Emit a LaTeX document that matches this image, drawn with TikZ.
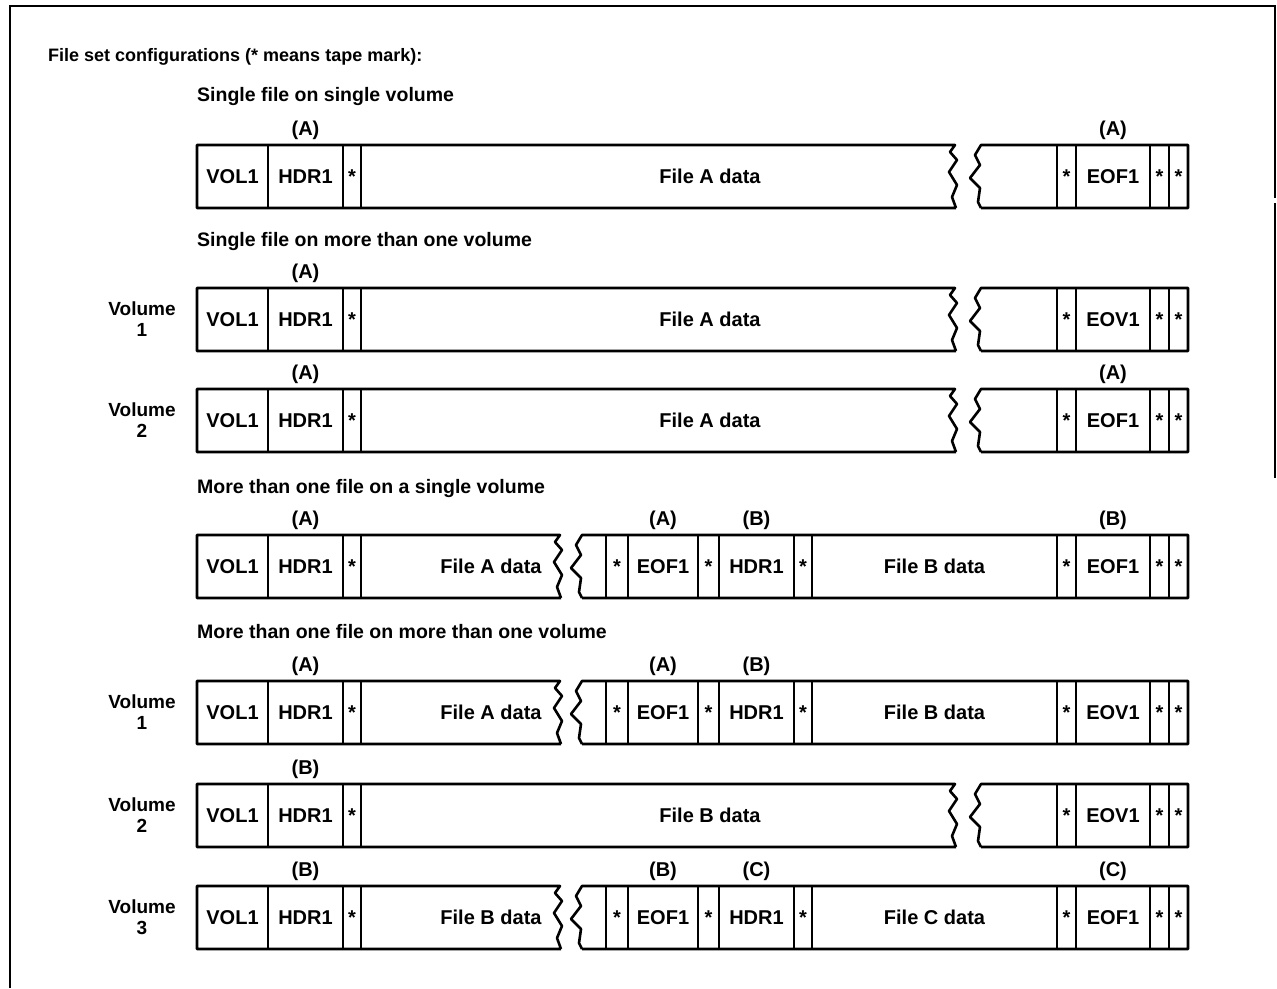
\documentclass[tikz,border=0pt]{standalone}
\usepackage{fontspec}
\setmainfont{Liberation Sans}
\def\zigL{-- ++(-5,7) -- ++(7,8) -- ++(-8,12) -- ++(8,13) -- ++(-5,12) -- ++(4,11)}
\def\zigR{-- ++(-6,10) -- ++(5,10) -- ++(-10,13) -- ++(10,10) -- ++(-2,14) -- ++(3,6)}
\newcommand\rowleft[1]{%
  \draw[div] (268,0) -- (268,63);
  \draw[div] (343,0) -- (343,63);
  \draw[div] (361,0) -- (361,63);
  \node[lbl] (#1vol) at (232.5,31.5) {VOL1};
  \node[lbl] (#1hdr) at (305.5,31.5) {HDR1};
  \node[lbl] (#1ta) at (352,31.5) {*};
}
\newcommand\rowright[2]{%
  \draw[div] (1057,0) -- (1057,63);
  \draw[div] (1076,0) -- (1076,63);
  \draw[div] (1150,0) -- (1150,63);
  \draw[div] (1169,0) -- (1169,63);
  \node[lbl] (#1tb) at (1066.5,31.5) {*};
  \node[lbl] (#1end) at (1113,31.5) {#2};
  \node[lbl] (#1tc) at (1159.5,31.5) {*};
  \node[lbl] (#1td) at (1178.5,31.5) {*};
}
\newcommand\rowlong[3]{%
  \draw[box] (956,63) -- (197,63) -- (197,0) -- (955,0) \zigL;
  \draw[box] (981,63) -- (1188,63) -- (1188,0) -- (981,0) \zigR;
  \rowleft{#1}
  \node[lbl] (#1data) at (710,31.5) {#2};
  \rowright{#1}{#3}
}
\newcommand\rowmid[4]{%
  \draw[box] (561,63) -- (197,63) -- (197,0) -- (560,0) \zigL;
  \draw[box] (582,63) -- (1188,63) -- (1188,0) -- (582,0) \zigR;
  \rowleft{#1}
  \node[lbl] (#1data) at (491,31.5) {#2};
  \draw[div] (606,0) -- (606,63);
  \draw[div] (628,0) -- (628,63);
  \draw[div] (698,0) -- (698,63);
  \draw[div] (719,0) -- (719,63);
  \draw[div] (794,0) -- (794,63);
  \draw[div] (812,0) -- (812,63);
  \node[lbl] (#1tm1) at (617,31.5) {*};
  \node[lbl] (#1eof) at (663,31.5) {EOF1};
  \node[lbl] (#1tm2) at (708.5,31.5) {*};
  \node[lbl] (#1hdrb) at (756.5,31.5) {HDR1};
  \node[lbl] (#1tm3) at (803,31.5) {*};
  \node[lbl] (#1datab) at (934.5,31.5) {#3};
  \rowright{#1}{#4}
}
\begin{document}
\begin{tikzpicture}[x=1pt,y=-1pt,
  box/.style={line width=2.6pt, line join=round},
  div/.style={line width=2pt},
  lbl/.style={font=\fontsize{20}{22}\selectfont\bfseries, inner sep=0pt, text height=14pt, text depth=0pt},
  hdr/.style={font=\fontsize{19.5}{21}\selectfont\bfseries, inner sep=0pt, text height=13pt, text depth=0pt, anchor=west},
  vol/.style={font=\fontsize{19}{21}\selectfont\bfseries, inner sep=0pt, align=center},
  frame/.style={line width=2.6pt}]
\useasboundingbox (0,0) rectangle (1277,988);
% frame
\draw[frame] (10,988) -- (10,6) -- (1275,6) -- (1275,198);
\draw[frame] (1275,203) -- (1275,478);
% titles
\node[hdr, font=\fontsize{18}{21}\selectfont\bfseries] (title) at (48,55) {File set configurations (* means tape mark):};
\node[hdr] (h1) at (197,95) {Single file on single volume};
\node[hdr] (h2) at (197,240) {Single file on more than one volume};
\node[hdr] (h3) at (197,487) {More than one file on a single volume};
\node[hdr] (h4) at (197,632) {More than one file on more than one volume};
% row 1
\begin{scope}[shift={(0,145)}]
  \rowlong{ra}{File A data}{EOF1}
  \node[lbl] (raL1) at (305.5,-17) {(A)};
  \node[lbl] (raL2) at (1113,-17) {(A)};
\end{scope}
% row 2
\begin{scope}[shift={(0,288)}]
  \rowlong{rb}{File A data}{EOV1}
  \node[lbl] (rbL1) at (305.5,-17) {(A)};
  \node[vol] (rbV) at (142,31.5) {Volume\\1};
\end{scope}
% row 3
\begin{scope}[shift={(0,389)}]
  \rowlong{rc}{File A data}{EOF1}
  \node[lbl] (rcL1) at (305.5,-17) {(A)};
  \node[lbl] (rcL2) at (1113,-17) {(A)};
  \node[vol] (rcV) at (142,31.5) {Volume\\2};
\end{scope}
% row 4
\begin{scope}[shift={(0,535)}]
  \rowmid{rd}{File A data}{File B data}{EOF1}
  \node[lbl] (rdL1) at (305.5,-17) {(A)};
  \node[lbl] (rdL2) at (663,-17) {(A)};
  \node[lbl] (rdL3) at (756.5,-17) {(B)};
  \node[lbl] (rdL4) at (1113,-17) {(B)};
\end{scope}
% row 5
\begin{scope}[shift={(0,681)}]
  \rowmid{re}{File A data}{File B data}{EOV1}
  \node[lbl] (reL1) at (305.5,-17) {(A)};
  \node[lbl] (reL2) at (663,-17) {(A)};
  \node[lbl] (reL3) at (756.5,-17) {(B)};
  \node[vol] (reV) at (142,31.5) {Volume\\1};
\end{scope}
% row 6
\begin{scope}[shift={(0,784)}]
  \rowlong{rf}{File B data}{EOV1}
  \node[lbl] (rfL1) at (305.5,-17) {(B)};
  \node[vol] (rfV) at (142,31.5) {Volume\\2};
\end{scope}
% row 7
\begin{scope}[shift={(0,886)}]
  \rowmid{rg}{File B data}{File C data}{EOF1}
  \node[lbl] (rgL1) at (305.5,-17) {(B)};
  \node[lbl] (rgL2) at (663,-17) {(B)};
  \node[lbl] (rgL3) at (756.5,-17) {(C)};
  \node[lbl] (rgL4) at (1113,-17) {(C)};
  \node[vol] (rgV) at (142,31.5) {Volume\\3};
\end{scope}
\end{tikzpicture}
\end{document}
